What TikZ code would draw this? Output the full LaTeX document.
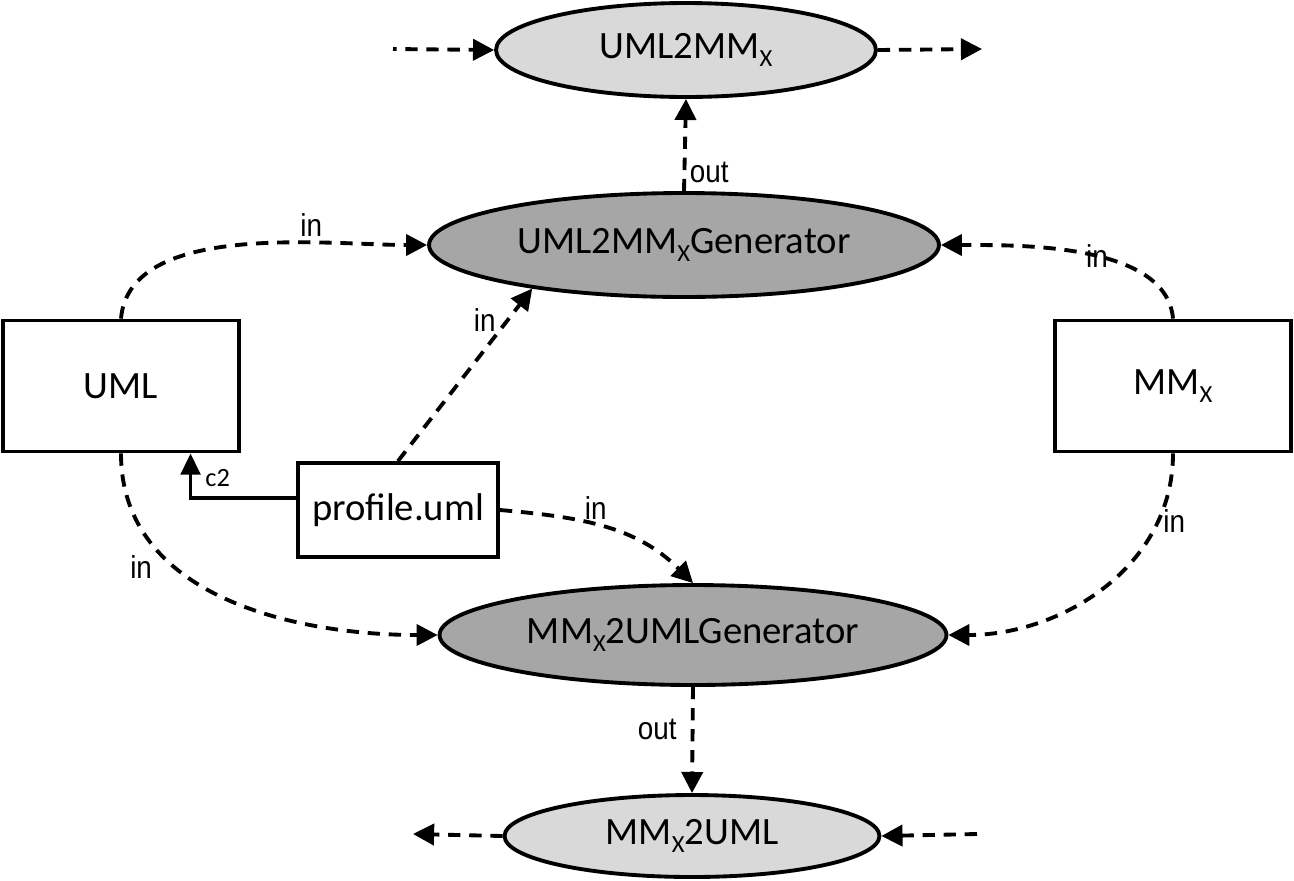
\documentclass[tikz,border=0pt]{standalone}
\usepackage{fontspec}
\setmainfont{Carlito}
\newfontfamily\lblfont[FakeStretch=0.88]{Liberation Sans}
\usetikzlibrary{shapes.geometric,arrows.meta,calc}
\definecolor{lightgrey}{HTML}{D9D9D9}
\definecolor{darkgrey}{HTML}{A6A6A6}
\newcommand{\mmx}{MM\raisebox{-0.45ex}{\fontsize{14}{14}\selectfont X}}
\tikzset{
  model/.style={draw, line width=2.2pt, inner sep=0pt, font=\fontsize{22}{26}\selectfont},
  transfo/.style={ellipse, draw, line width=2.2pt, fill=lightgrey, inner sep=0pt, font=\fontsize{22}{26}\selectfont},
  generator/.style={ellipse, draw, line width=2.2pt, fill=darkgrey, inner sep=0pt, font=\fontsize{22}{26}\selectfont},
  flow/.style={line width=2.2pt, dash pattern=on 7pt off 5pt, -{Triangle[length=12pt,width=12pt]}},
  conf/.style={line width=2.2pt, -{Triangle[length=12pt,width=11pt]}},
  lbl/.style={font=\lblfont\fontsize{18}{21}\selectfont, inner sep=2pt}
}

\begin{document}
\begin{tikzpicture}[x=0.02cm,y=-0.02cm]
  \useasboundingbox (0,0) rectangle (1294,880);

  \node[transfo, minimum width=7.6cm, minimum height=1.88cm] (u2m) at (686,50) {UML2\mmx};
  \node[generator, minimum width=10.2cm, minimum height=2.08cm] (u2mgen) at (684,245) {UML2\mmx Generator};
  \node[model, minimum width=4.72cm, minimum height=2.62cm] (uml) at (121,386) {UML};
  \node[model, minimum width=4.72cm, minimum height=2.62cm] (mmx) at (1173,386) {\mmx};
  \node[model, minimum width=4cm, minimum height=1.88cm] (profile) at (398,510) {profile.uml};
  \node[generator, minimum width=10.14cm, minimum height=2cm] (m2ugen) at (693,635) {\mmx 2UMLGenerator};
  \node[transfo, minimum width=7.5cm, minimum height=1.64cm] (m2u) at (692,836) {\mmx 2UML};

  \coordinate (u2min) at (393,49);
  \coordinate (u2mout) at (982,49);
  \coordinate (m2uout) at (413,834);
  \coordinate (m2uin) at (977,834);

  \draw[flow, dash phase=5pt] (u2min) -- (u2m.west);
  \draw[flow] (u2m.east) -- (u2mout);
  \draw[flow] (m2u.west) -- (m2uout);
  \draw[flow] (m2uin) -- (m2u.east);

  \draw[flow] (u2mgen.north) -- node[lbl, pos=0.2, right] {out} (u2m.south);
  \draw[flow] (m2ugen.south) -- node[lbl, pos=0.4, left=6pt] {out} (m2u.north);

  \draw[flow] (uml.north) to[out=85, in=180, looseness=0.8] node[lbl, pos=0.68, above] {in} (u2mgen.west);
  \draw[flow] (mmx.north) to[out=95, in=0, looseness=0.8] node[lbl, pos=0.45] {in} (u2mgen.east);
  \draw[flow] (profile.north) -- node[lbl, pos=0.82, left=4pt] {in} (u2mgen.196);
  \draw[flow] (uml.south) to[out=-90, in=180] node[lbl, pos=0.28, below left] {in} (m2ugen.west);
  \draw[flow] (mmx.south) to[out=-90, in=0] node[lbl, pos=0.22, right] {in} (m2ugen.east);
  \draw[flow] (profile.east) to[out=-5, in=135] node[lbl, pos=0.45, above] {in} (m2ugen.north);

  \draw[conf] ([yshift=0.24cm]profile.west) -| node[pos=0.72, right=4pt, font=\fontsize{15}{18}\selectfont] {c2} ($(uml.south)!0.58!(uml.south east)$);
\end{tikzpicture}
\end{document}
